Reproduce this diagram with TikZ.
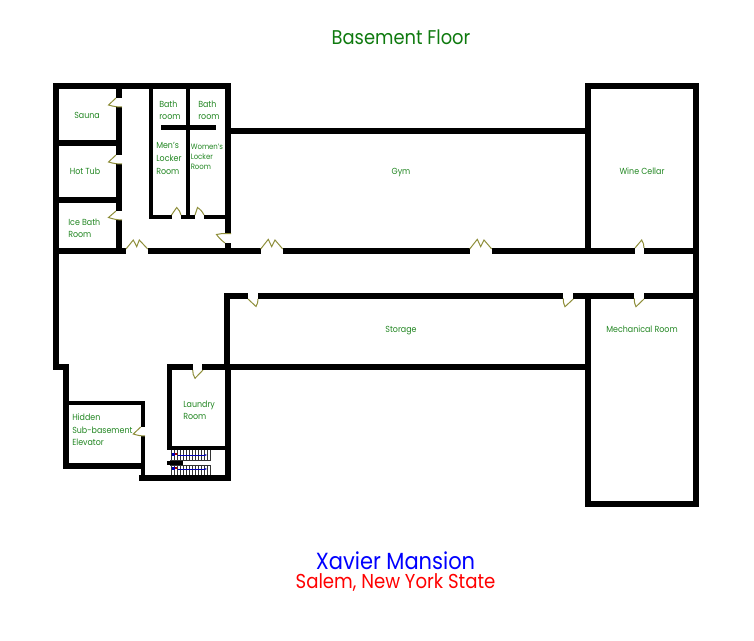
\documentclass[tikz,border=0pt]{standalone}
\usepackage{fontspec}
\setmainfont[FakeStretch=0.9]{Poppins}
\definecolor{roomgreen}{HTML}{228622}
\definecolor{titlegreen}{HTML}{0F7A0F}
\definecolor{doorolive}{HTML}{8E8E3A}
\tikzset{
  wall/.style={line width=4.5pt, color=black},
  thinwall/.style={line width=3pt, color=black},
  door/.style={line width=0.75pt, color=doorolive},
  heading/.style={inner sep=0pt},
  room/.style={text=roomgreen, inner sep=0pt, align=left, font=\fontsize{6.6}{9.4}\selectfont},
  smallroom/.style={room, font=\fontsize{5.8}{7.5}\selectfont},
  tread/.style={line width=0.5pt, color=black!80},
  runline/.style={line width=0.7pt, color=blue!70!black, -{Stealth[length=2pt]}},
}
\usetikzlibrary{arrows.meta}
\begin{document}
\begin{tikzpicture}[x=0.75pt, y=-0.75pt]
\useasboundingbox (0,0) rectangle (754,640);

\node[heading, text=titlegreen, font=\fontsize{14.9}{16}\selectfont] (title) at (401,37.5) {Basement Floor};
\node[heading, text=blue, font=\fontsize{17.5}{19}\selectfont] (mansion) at (395.5,561) {Xavier Mansion};
\node[heading, text=red, font=\fontsize{15.1}{17}\selectfont] (place) at (395.5,582) {Salem, New York State};

%% outer walls
\draw[wall] (53,86) -- (231,86);
\draw[wall] (56,83) -- (56,366.5) -- (66,366.5) -- (66,466) -- (145,466);
\draw[wall] (228,83) -- (228,233.5); \draw[wall] (228,243) -- (228,254);
\draw[wall] (231,131) -- (588,131);

%% left rooms
\draw[wall] (119,83) -- (119,98); \draw[wall] (119,107) -- (119,155);
\draw[wall] (119,164) -- (119,211); \draw[wall] (119,220) -- (119,254);
\draw[wall] (59,143) -- (119,143);
\draw[wall] (59,200) -- (119,200);

%% locker rooms
\draw[thinwall] (151,86) -- (151,219);
\draw[thinwall] (188,86) -- (188,219);
\draw[thinwall] (149.5,217) -- (172,217); \draw[thinwall] (181,217) -- (195,217); \draw[thinwall] (204,217) -- (228,217);
\draw[line width=3.7pt] (161,127.5) -- (216,127.5);

%% corridor
\draw[wall] (56,251) -- (126,251); \draw[wall] (148,251) -- (261,251);
\draw[wall] (283,251) -- (470,251); \draw[wall] (492,251) -- (635,251);
\draw[wall] (644,251) -- (696,251);
\draw[wall] (224,296) -- (248,296); \draw[wall] (258,296) -- (563,296);
\draw[wall] (573,296) -- (634,296); \draw[wall] (644,296) -- (696,296);

%% storage and wing
\draw[wall] (227,293) -- (227,370);
\draw[wall] (227,367) -- (588,367);
\draw[wall] (588,83) -- (588,251);
\draw[wall] (588,296) -- (588,506);
\draw[wall] (696,83) -- (696,506);
\draw[wall] (585,86) -- (699,86);
\draw[wall] (585,503.5) -- (699,503.5);

%% laundry and elevator
\draw[wall] (167,367) -- (193,367); \draw[wall] (202,367) -- (231,367);
\draw[line width=3.7pt] (169.5,364) -- (169.5,449);
\draw[wall] (228,364) -- (228,481);
\draw[wall] (139,478) -- (231,478);
\draw[thinwall] (167,447.5) -- (228,447.5);
\draw[line width=3.7pt] (66,403) -- (145,403);
\draw[line width=3.7pt] (143,401) -- (143,427); \draw[line width=3.7pt] (143,436) -- (143,481);

%% stairs
\foreach \tx in {171,174,...,210}{
  \draw[tread] (\tx,450) -- (\tx,460.5);
  \draw[tread] (\tx,465) -- (\tx,475);
}
\draw[tread] (170,460.5) -- (210,460.5);
\draw[tread] (170,465) -- (210,465);
\draw[line width=3pt] (167,462.5) -- (183,462.5);
\draw[runline] (178,455) -- (207,455);
\draw[runline] (178,469) -- (207,469);
\fill[blue!70!black] (172,453) rectangle (175,456);
\fill[red!70!black] (175,453) rectangle (177,455);
\fill[blue!70!black] (172,467) rectangle (175,470);
\fill[red!70!black] (175,467) rectangle (177,469);

%% doors
\draw[door] (116,98) -- (108.5,105) to[bend right=8] (122,107);
\draw[door] (116,155) -- (108.5,162) to[bend right=8] (122,164);
\draw[door] (116,211) -- (108.5,217.5) to[bend right=8] (122,220);
\draw[door] (126,249) -- (133.3,240) -- (136.7,246.7) -- (139.3,240) -- (147.7,249);
\draw[door] (171.5,215) -- (176.7,207.5) to[bend left=15] (181,215);
\draw[door] (195,215) -- (197.5,207.5) to[bend left=15] (204,215);
\draw[door] (231,233.5) -- (222.5,233.5) -- (216.5,234.5) to[bend right=8] (225,243);
\draw[door] (260.7,249) -- (268.3,239.3) -- (271.7,246.7) -- (275,240) -- (282.7,249);
\draw[door] (469.7,249) -- (477.3,239.3) -- (480.7,246.7) -- (484,240) -- (491.7,249);
\draw[door] (635,248) -- (641.7,240) to[bend left=15] (644,248);
\draw[door] (248,299) -- (256,306.5) to[bend right=15] (258,299);
\draw[door] (563.3,298.5) to[bend right=15] (565,306.7) -- (573.3,299);
\draw[door] (634.3,298.5) to[bend right=15] (636,306.7) -- (644,299);
\draw[door] (192.7,370) to[bend right=15] (195,378.3) -- (203,370);
\draw[door] (140.7,427) -- (133.3,434) to[bend right=8] (145,436);

%% rooms
\node[room] (sauna) at (87,115) {Sauna};
\node[room] (hottub) at (85,171) {Hot Tub};
\node[room, anchor=west] (icebath) at (68,228.5) {Ice Bath\\Room};
\node[room, anchor=west] (bathmen) at (159,110.5) {Bath\\room};
\node[room, anchor=west] (bathwomen) at (198,110.5) {Bath\\room};
\node[room, anchor=west] (lockermen) at (156,158.5) {Men's\\Locker\\Room};
\node[smallroom, anchor=west] (lockerwomen) at (190.5,157) {Women's\\Locker\\Room};
\node[room] (gym) at (401,172.5) {Gym};
\node[room] (cellar) at (642,171) {Wine Cellar};
\node[room] (storage) at (401,331) {Storage};
\node[room] (mechanical) at (642,329) {Mechanical Room};
\node[room, anchor=west] (laundry) at (183,410.5) {Laundry\\Room};
\node[room, anchor=west] (elevator) at (72,430) {Hidden\\Sub-basement\\Elevator};

\end{tikzpicture}
\end{document}
